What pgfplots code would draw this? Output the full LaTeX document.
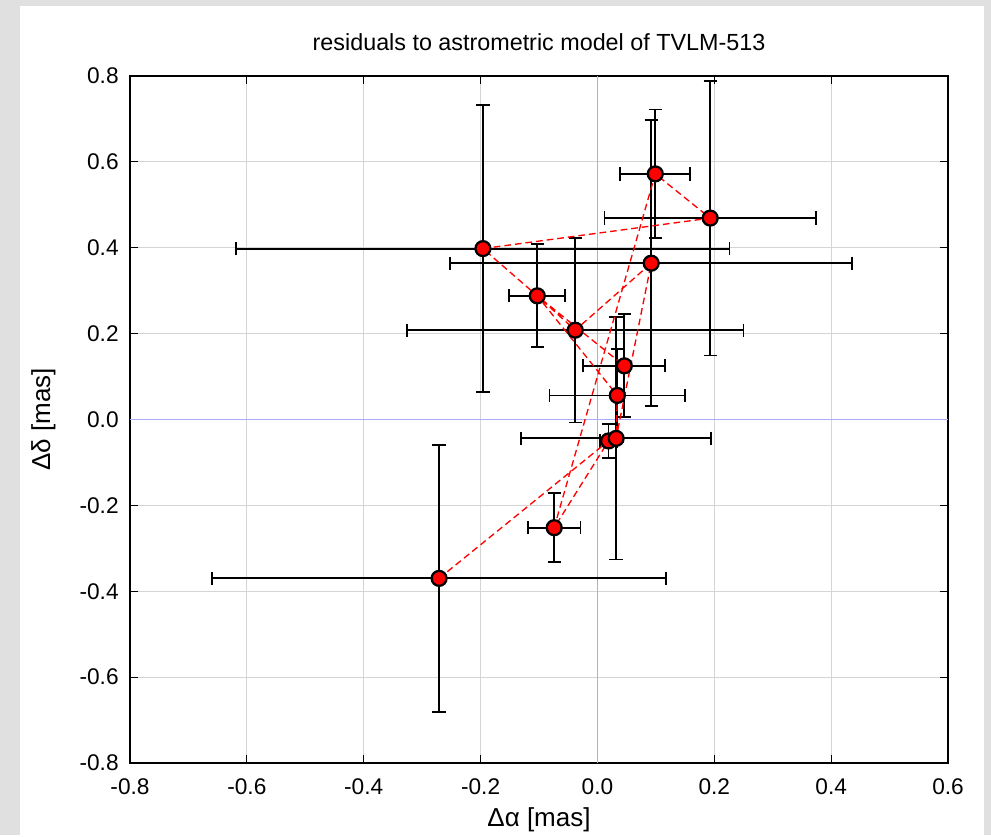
\documentclass[border=0pt]{standalone}
\usepackage{fontspec}
\setmainfont{Liberation Sans}
\usepackage{pgfplots}
\pgfplotsset{compat=1.18}
\usepackage{pgfplotstable}
\definecolor{bggrey}{RGB}{224,224,224}
\definecolor{gridgrey}{RGB}{212,212,212}
\definecolor{zeroblue}{RGB}{170,170,255}

% residuals with error bars
\pgfplotstableread{
x      y       ex     ey
0.099  0.572   0.060  0.150
0.092  0.364   0.344  0.333
0.193  0.469   0.181  0.320
-0.196 0.398   0.422  0.334
-0.103 0.288   0.048  0.120
-0.038 0.208   0.288  0.215
0.046  0.125   0.070  0.120
0.034  0.056   0.116  0.108
0.019  -0.050  0.015  0.039
0.032  -0.044  0.163  0.282
-0.074 -0.252  0.045  0.080
-0.271 -0.370  0.388  0.311
}\pts

% connecting path
\pgfplotstableread{
x      y
-0.271 -0.370
0.019  -0.050
-0.074 -0.252
0.099  0.572
0.193  0.469
-0.196 0.398
-0.103 0.288
-0.038 0.208
0.092  0.364
0.032  -0.044
0.034  0.056
-0.103 0.288
0.046  0.125
}\pathtab

\begin{document}
\begin{tikzpicture}[font=\fontsize{17}{20}\selectfont]
\fill[bggrey] (0,0) rectangle (743.25pt,626.25pt);
\fill[white] (15pt,0) rectangle (738pt,621.75pt);
\begin{axis}[
  at={(97.5pt,54pt)}, anchor=south west,
  scale only axis, width=613.5pt, height=515.25pt,
  xmin=-0.8, xmax=0.6, ymin=-0.8, ymax=0.8,
  xtick={-0.8,-0.6,-0.4,-0.2,0,0.2,0.4,0.6},
  xticklabels={-0.8,-0.6,-0.4,-0.2,0.0,0.2,0.4,0.6},
  ytick={-0.8,-0.6,-0.4,-0.2,0,0.2,0.4,0.6,0.8},
  yticklabels={-0.8,-0.6,-0.4,-0.2,0.0,0.2,0.4,0.6,0.8},
  tick align=inside, major tick length=6pt,
  every tick/.style={black, line width=0.9pt},
  axis line style={black, line width=1.1pt},
  grid=major, major grid style={gridgrey, line width=0.8pt},
  xticklabel style={yshift=-8pt},
  yticklabel style={xshift=-5pt},
  title={residuals to astrometric model of TVLM-513},
  title style={at={(0.5,1.037)}, anchor=center, font=\fontsize{17.5}{20}\selectfont},
  xlabel={Δα [mas]},
  ylabel={Δδ [mas]},
  label style={font=\fontsize{19.5}{22}\selectfont},
  xlabel style={at={(axis description cs:0.5,-0.083)}, anchor=center},
  ylabel style={at={(axis description cs:-0.106,0.5)}, anchor=center},
  clip=false,
]
\addplot[zeroblue, line width=1pt, forget plot] coordinates {(0,-0.8) (0,0.8)};
\addplot[zeroblue, line width=1pt, forget plot] coordinates {(-0.8,0) (0.6,0)};
\addplot[only marks, mark=none,
  error bars/.cd, x dir=both, x explicit, y dir=both, y explicit,
  error bar style={black, line width=1.4pt},
  error mark options={black, line width=1.4pt, mark size=5pt, rotate=90}]
  table[x=x, y=y, x error=ex, y error=ey] {\pts};
\addplot[red, line width=1pt, dash pattern=on 5pt off 3pt] table[x=x, y=y] {\pathtab};
\addplot[only marks, mark=*, mark size=5.6pt,
  mark options={fill=red, draw=black, line width=1.7pt}]
  table[x=x, y=y] {\pts};
\end{axis}
\end{tikzpicture}
\end{document}
